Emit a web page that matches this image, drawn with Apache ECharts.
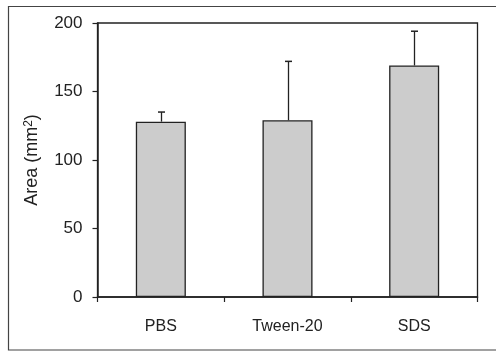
<!DOCTYPE html>
<html><head><meta charset="utf-8">
<script src="https://cdn.jsdelivr.net/npm/echarts@6/dist/echarts.min.js"></script>
<style>html,body{margin:0;padding:0;background:#fff}#c{width:496px;height:352px}</style>
</head><body><div id="c"></div>
<script>
const categories = ['PBS', 'Tween-20', 'SDS'];
const means = [128, 129, 169];
const errors = [7, 43, 25];
const yTicks = [0, 50, 100, 150, 200];

const chart = echarts.init(document.getElementById('c'), null, {renderer: 'canvas'});
const font = 'Liberation Sans, Arial, sans-serif';
chart.setOption({
  animation: false,
  backgroundColor: '#fff',
  graphic: [{
    type: 'rect', shape: {x: 8.5, y: 6.5, width: 500, height: 343.5},
    style: {fill: 'none', stroke: '#444', lineWidth: 1.2}, silent: true, z: -1
  }],
  grid: {left: 97.5, right: 18.5, top: 23, bottom: 55, show: true, borderColor: '#222', borderWidth: 1.3, backgroundColor: 'transparent'},
  xAxis: {
    type: 'category', data: categories, boundaryGap: true,
    axisLine: {lineStyle: {color: '#222', width: 1.5}},
    axisTick: {show: true, alignWithLabel: false, length: 5, lineStyle: {color: '#222', width: 1.2}},
    axisLabel: {color: '#222', fontFamily: font, fontSize: 16, margin: 22},
    splitLine: {show: false}
  },
  yAxis: {
    type: 'value', min: yTicks[0], max: yTicks[yTicks.length - 1], interval: 50,
    name: 'Area (mm{sup|2})', nameLocation: 'middle', nameGap: 55,
    nameTextStyle: {color: '#222', fontFamily: font, fontSize: 18, lineHeight: 20,
      rich: {sup: {fontFamily: font, fontSize: 12, color: '#222', verticalAlign: 'top', lineHeight: 12, padding: [0, 0, 8, 0]}}},
    axisLine: {show: true, lineStyle: {color: '#222', width: 1.5}},
    axisTick: {show: true, length: 5, lineStyle: {color: '#222', width: 1.2}},
    axisLabel: {color: '#222', fontFamily: font, fontSize: 17, margin: 15},
    splitLine: {show: false}
  },
  series: [{
    type: 'bar', data: means, barWidth: '39.5%',
    itemStyle: {color: '#cccccc', borderColor: '#222', borderWidth: 1.3}
  }, {
    type: 'custom',
    data: means.map((m, i) => [i, m, m + errors[i]]),
    renderItem: function (params, api) {
      const p0 = api.coord([api.value(0), api.value(1)]);
      const p1 = api.coord([api.value(0), api.value(2)]);
      const x = Math.round(p0[0]) + 0.5;
      return {
        type: 'group', children: [
          {type: 'line', shape: {x1: x, y1: p0[1], x2: x, y2: p1[1]}, style: {stroke: '#222', lineWidth: 1.3}},
          {type: 'line', shape: {x1: x - 3.5, y1: p1[1], x2: x + 3.5, y2: p1[1]}, style: {stroke: '#222', lineWidth: 1.5}}
        ]
      };
    },
    z: 3
  }]
});
</script></body></html>
